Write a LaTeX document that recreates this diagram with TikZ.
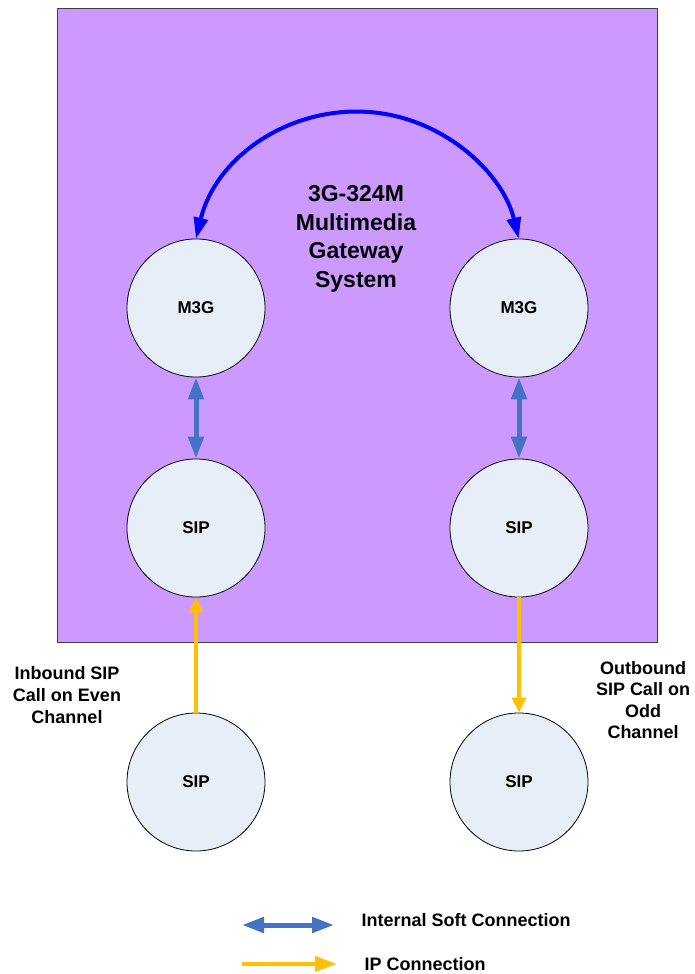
\documentclass[tikz,border=0pt]{standalone}
\usepackage{fontspec}
\setmainfont{Liberation Sans}
\usetikzlibrary{arrows.meta}
\definecolor{purplebg}{RGB}{204,153,255}
\definecolor{circfill}{RGB}{232,238,247}
\definecolor{softblue}{RGB}{68,114,196}
\definecolor{ipyellow}{RGB}{255,192,0}
\definecolor{arcblue}{RGB}{0,0,255}
\begin{document}
\begin{tikzpicture}[x=1pt,y=-1pt,
  gw/.style={circle,draw=black,line width=0.8pt,fill=circfill,minimum size=138pt,inner sep=0pt,font=\fontsize{17}{20}\selectfont\bfseries},
  soft/.style={draw=softblue,line width=5pt,{Triangle[length=22pt,width=15pt]}-{Triangle[length=22pt,width=15pt]}},
  ip/.style={draw=ipyellow,line width=4pt,-{Triangle[length=15pt,width=14pt]}},
  iplong/.style={draw=ipyellow,line width=4pt,-{Triangle[length=22pt,width=15pt]}},
  lbl/.style={align=center,font=\fontsize{18}{22}\selectfont\bfseries}]
\useasboundingbox (0,0) rectangle (694,974);
\node[draw=black!75,line width=0.8pt,fill=purplebg,minimum width=600pt,minimum height=634pt,inner sep=0pt,anchor=north west] (sys) at (57,8) {};
\node[gw] (m3gL) at (196,308) {M3G};
\node[gw] (m3gR) at (519,308) {M3G};
\node[gw] (sipL) at (196,528) {SIP};
\node[gw] (sipR) at (519,528) {SIP};
\node[gw] (extL) at (196,782) {SIP};
\node[gw] (extR) at (519,782) {SIP};
\node[align=center,font=\fontsize{23}{28.7}\selectfont\bfseries] (title) at (356,239) {3G-324M\\Multimedia\\Gateway\\System};
\draw[draw=arcblue,line width=4pt,{Triangle[length=21pt,width=14pt]}-{Triangle[length=21pt,width=14pt]}]
  (m3gL.north) arc[start angle=-166.4, end angle=-13.6, radius=166];
\draw[soft] (m3gL.south) -- (sipL.north);
\draw[soft] (m3gR.south) -- (sipR.north);
\draw[ip] (extL.north) -- (sipL.south);
\draw[ip] (sipR.south) -- (extR.north);
\node[lbl] (inb) at (67,695) {Inbound SIP\\Call on Even\\Channel};
\node[lbl,font=\fontsize{18}{21.5}\selectfont\bfseries] (outb) at (643,700) {Outbound\\SIP Call on\\Odd\\Channel};
\coordinate (lsA) at (242,925);
\coordinate (lsB) at (334,925);
\coordinate (liA) at (242,964);
\coordinate (liB) at (337,964);
\draw[soft] (lsA) -- (lsB);
\draw[iplong] (liA) -- (liB);
\node[anchor=west,font=\fontsize{18}{20}\selectfont\bfseries] (lsT) at (358,920) {Internal Soft Connection};
\node[anchor=west,font=\fontsize{18}{20}\selectfont\bfseries] (liT) at (361,964) {IP Connection};
\end{tikzpicture}
\end{document}
